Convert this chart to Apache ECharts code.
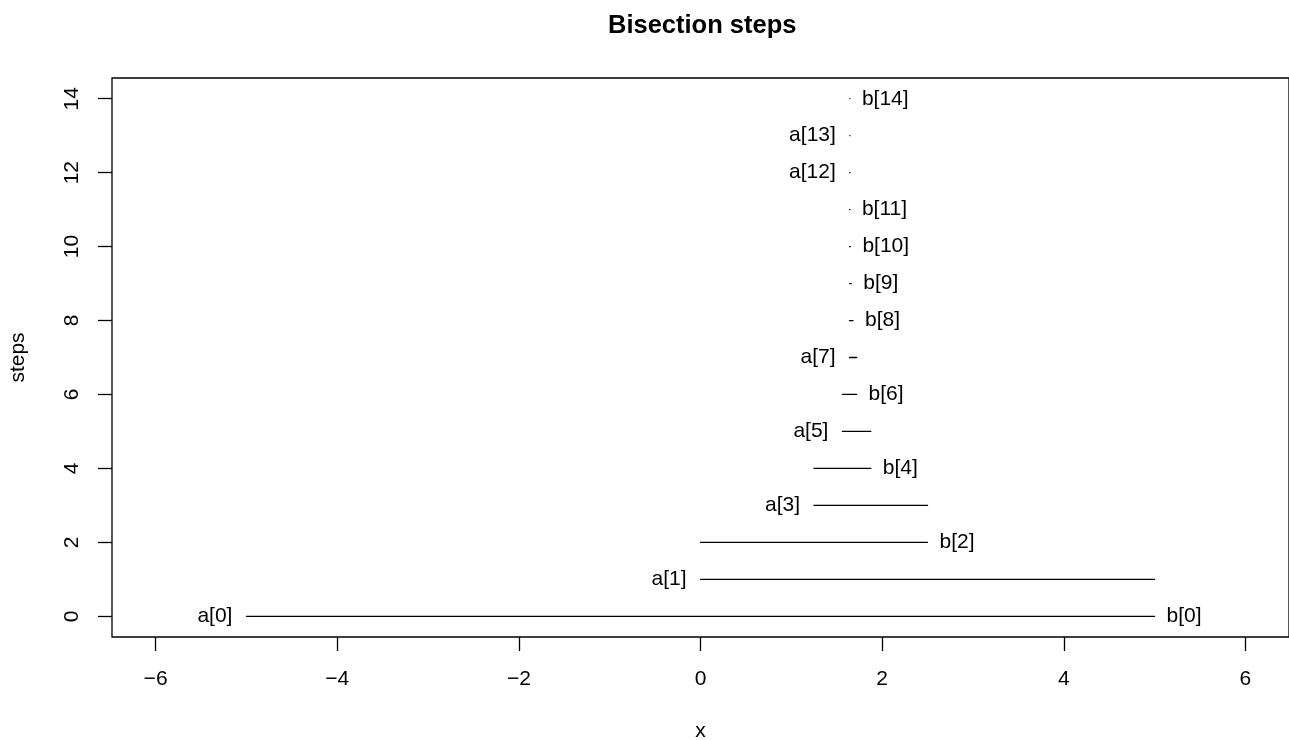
<!DOCTYPE html>
<html>
<head>
<meta charset="utf-8">
<script src="https://cdn.jsdelivr.net/npm/echarts@6/dist/echarts.min.js"></script>
<style>
html,body{margin:0;padding:0;background:#fff;}
#chart{width:1289px;height:740px;}
</style>
</head>
<body>
<div id="chart"></div>
<script>
// Bisection intervals [a_k, b_k] at each step k
var steps = [0, 1, 2, 3, 4, 5, 6, 7, 8, 9, 10, 11, 12, 13, 14];
var aVals = [-5, 0, 0, 1.25, 1.25, 1.5625, 1.5625, 1.640625, 1.640625, 1.640625, 1.640625, 1.640625, 1.6430664, 1.6442871, 1.6442871];
var bVals = [5, 5, 2.5, 2.5, 1.875, 1.875, 1.71875, 1.71875, 1.6796875, 1.66015625, 1.65039063, 1.64550781, 1.64550781, 1.64550781, 1.64489746];
// which end moved at that step (labelled)
var labelSide = ['ab', 'a', 'b', 'a', 'b', 'a', 'b', 'a', 'b', 'b', 'b', 'b', 'a', 'a', 'b'];
var xTicks = [-6, -4, -2, 0, 2, 4, 6];
var yTicks = [0, 2, 4, 6, 8, 10, 12, 14];

var FONT = "'Liberation Sans', Arial, sans-serif";
var chart = echarts.init(document.getElementById('chart'), null, {renderer: 'canvas'});

var data = steps.map(function (s, i) { return [aVals[i], bVals[i], s]; });

var option = {
  backgroundColor: '#ffffff',
  animation: false,
  title: {
    text: 'Bisection steps',
    left: 603,
    top: 8,
    textStyle: {fontFamily: FONT, fontSize: 25.5, fontWeight: 'bold', color: '#000'}
  },
  grid: {
    left: 112, right: 0, top: 78, bottom: 103,
    containLabel: false,
    outerBoundsMode: 'none',
    show: true, borderColor: '#000', borderWidth: 1.3, backgroundColor: 'transparent'
  },
  xAxis: {
    type: 'value',
    min: -6.48, max: 6.48,
    name: 'x',
    nameLocation: 'middle',
    nameGap: 94,
    nameTextStyle: {fontFamily: FONT, fontSize: 21, color: '#000', verticalAlign: 'middle'},
    axisLine: {show: false, onZero: false},
    splitLine: {show: false},
    axisTick: {show: true, length: 14, customValues: xTicks, lineStyle: {color: '#000', width: 1.3}},
    axisLabel: {
      show: true, customValues: xTicks, margin: 42,
      fontFamily: FONT, fontSize: 21, color: '#000', verticalAlign: 'middle',
      formatter: function (v) { return v < 0 ? '\u2212' + Math.abs(v) : String(v); }
    }
  },
  yAxis: {
    type: 'value',
    min: -0.56, max: 14.56,
    name: 'steps',
    nameLocation: 'middle',
    nameGap: 93.5,
    nameTextStyle: {fontFamily: FONT, fontSize: 21, color: '#000', verticalAlign: 'middle'},
    axisLine: {show: false, onZero: false},
    splitLine: {show: false},
    axisTick: {show: true, length: 14, customValues: yTicks, lineStyle: {color: '#000', width: 1.3}},
    axisLabel: {
      show: true, customValues: yTicks, margin: 40, rotate: 90,
      fontFamily: FONT, fontSize: 21, color: '#000', verticalAlign: 'middle', align: 'center'
    }
  },
  series: [{
    type: 'custom',
    data: data,
    encode: {x: [0, 1], y: 2},
    clip: false,
    renderItem: function (params, api) {
      var a = api.value(0), b = api.value(1), s = api.value(2);
      var p1 = api.coord([a, s]);
      var p2 = api.coord([b, s]);
      var side = labelSide[params.dataIndex];
      var children = [{
        type: 'line',
        shape: {x1: p1[0], y1: p1[1], x2: p2[0], y2: p2[1]},
        style: {stroke: '#000', lineWidth: 1.3, lineCap: 'round'}
      }];
      if (side.indexOf('a') >= 0) {
        children.push({
          type: 'text', x: p1[0] - 14, y: p1[1],
          style: {text: 'a[' + s + ']', align: 'right', verticalAlign: 'middle',
                  fill: '#000', fontSize: 21, fontFamily: FONT}
        });
      }
      if (side.indexOf('b') >= 0) {
        children.push({
          type: 'text', x: p2[0] + 12, y: p2[1],
          style: {text: 'b[' + s + ']', align: 'left', verticalAlign: 'middle',
                  fill: '#000', fontSize: 21, fontFamily: FONT}
        });
      }
      return {type: 'group', children: children};
    }
  }]
};
chart.setOption(option);
</script>
</body>
</html>
